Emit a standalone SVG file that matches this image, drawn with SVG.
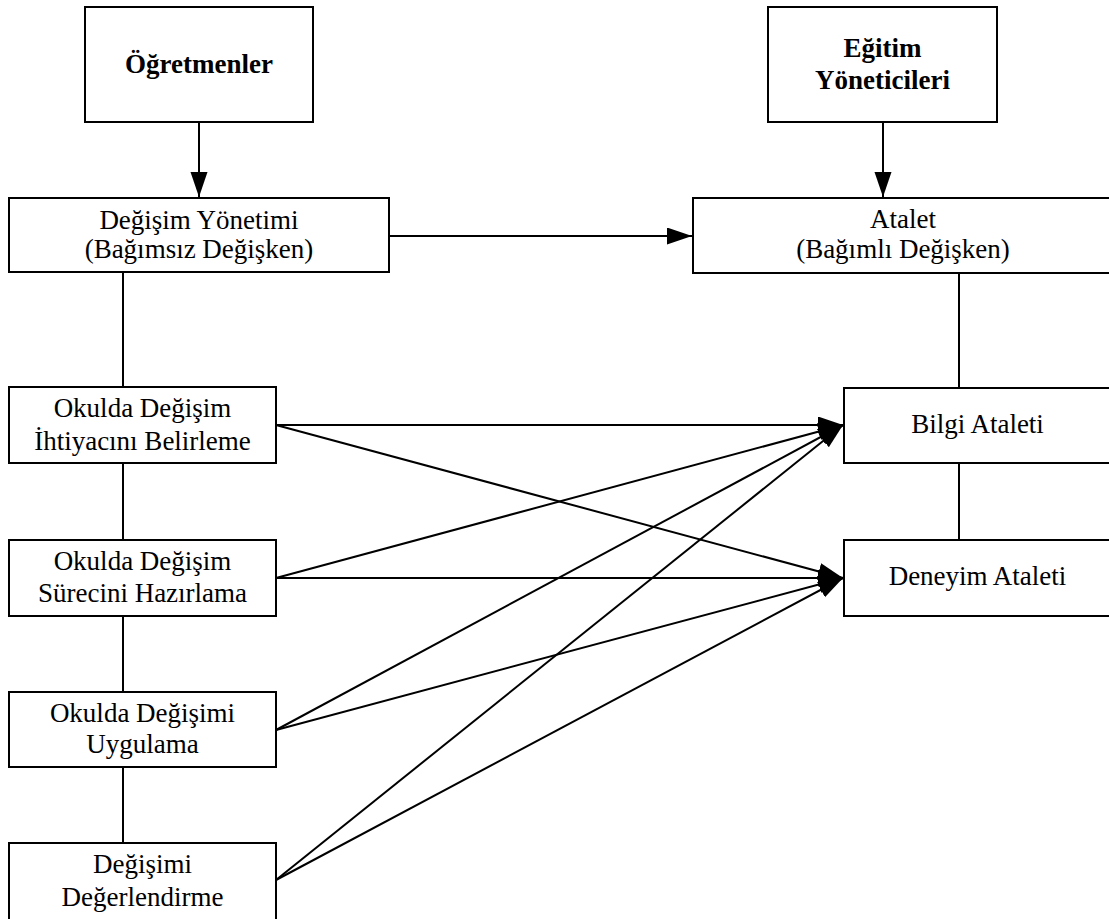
<svg xmlns="http://www.w3.org/2000/svg" width="1109" height="919" viewBox="0 0 1109 919">
<style>
.box{fill:#fff;stroke:#000;stroke-width:2}
.t{font-family:"Liberation Serif","Times New Roman",serif;font-size:27px;fill:#000;text-anchor:middle}
.b{font-weight:bold}
.c{stroke:#000;stroke-width:2;fill:none}
</style>
<defs>
<marker id="ah" markerUnits="userSpaceOnUse" markerWidth="26" markerHeight="18" refX="25" refY="8.5" orient="auto">
<path d="M0,0 L25,8.5 L0,17 z" fill="#000"/>
</marker>
</defs>
<g id="connectors">
<line class="c" x1="199" y1="122" x2="199" y2="197" marker-end="url(#ah)"/>
<line class="c" x1="883" y1="122" x2="883" y2="197" marker-end="url(#ah)"/>
<line class="c" x1="389" y1="236" x2="692" y2="236" marker-end="url(#ah)"/>
<line class="c" x1="123" y1="272" x2="123" y2="387"/>
<line class="c" x1="123" y1="463" x2="123" y2="540"/>
<line class="c" x1="123" y1="616" x2="123" y2="692"/>
<line class="c" x1="123" y1="767" x2="123" y2="843"/>
<line class="c" x1="959" y1="273" x2="959" y2="388"/>
<line class="c" x1="959" y1="463" x2="959" y2="540"/>
<line class="c" x1="276" y1="425" x2="843" y2="425" marker-end="url(#ah)"/>
<line class="c" x1="276" y1="425" x2="843" y2="578" marker-end="url(#ah)"/>
<line class="c" x1="276" y1="578" x2="843" y2="425" marker-end="url(#ah)"/>
<line class="c" x1="276" y1="578" x2="843" y2="578" marker-end="url(#ah)"/>
<line class="c" x1="276" y1="730" x2="843" y2="425" marker-end="url(#ah)"/>
<line class="c" x1="276" y1="730" x2="843" y2="578" marker-end="url(#ah)"/>
<line class="c" x1="276" y1="880" x2="843" y2="425" marker-end="url(#ah)"/>
<line class="c" x1="276" y1="880" x2="843" y2="578" marker-end="url(#ah)"/>
</g>
<g id="ogretmenler">
<rect class="box" x="85" y="7" width="228" height="115"/>
<text class="t b" x="199" y="73">Öğretmenler</text>
</g>
<g id="egitim-yoneticileri">
<rect class="box" x="768" y="7" width="229" height="115"/>
<text class="t b" x="882.5" y="57">Eğitim</text>
<text class="t b" x="882.5" y="89">Yöneticileri</text>
</g>
<g id="degisim-yonetimi">
<rect class="box" x="9" y="198" width="380" height="74"/>
<text class="t" x="199" y="229">Değişim Yönetimi</text>
<text class="t" x="199" y="258">(Bağımsız Değişken)</text>
</g>
<g id="atalet">
<rect class="box" x="693" y="198" width="425" height="75"/>
<text class="t" x="903" y="228">Atalet</text>
<text class="t" x="903" y="258">(Bağımlı Değişken)</text>
</g>
<g id="ihtiyac">
<rect class="box" x="9" y="387" width="267" height="76"/>
<text class="t" x="142.5" y="417">Okulda Değişim</text>
<text class="t" x="142.5" y="450">İhtiyacını Belirleme</text>
</g>
<g id="surec">
<rect class="box" x="9" y="540" width="267" height="76"/>
<text class="t" x="142.5" y="570">Okulda Değişim</text>
<text class="t" x="142.5" y="602">Sürecini Hazırlama</text>
</g>
<g id="uygulama">
<rect class="box" x="9" y="692" width="267" height="75"/>
<text class="t" x="142.5" y="722">Okulda Değişimi</text>
<text class="t" x="142.5" y="753">Uygulama</text>
</g>
<g id="degerlendirme">
<rect class="box" x="9" y="843" width="267" height="80"/>
<text class="t" x="142.5" y="873">Değişimi</text>
<text class="t" x="142.5" y="906">Değerlendirme</text>
</g>
<g id="bilgi-ataleti">
<rect class="box" x="844" y="388" width="273" height="75"/>
<text class="t" x="977.5" y="433">Bilgi Ataleti</text>
</g>
<g id="deneyim-ataleti">
<rect class="box" x="844" y="540" width="273" height="76"/>
<text class="t" x="977.5" y="585">Deneyim Ataleti</text>
</g>
</svg>
